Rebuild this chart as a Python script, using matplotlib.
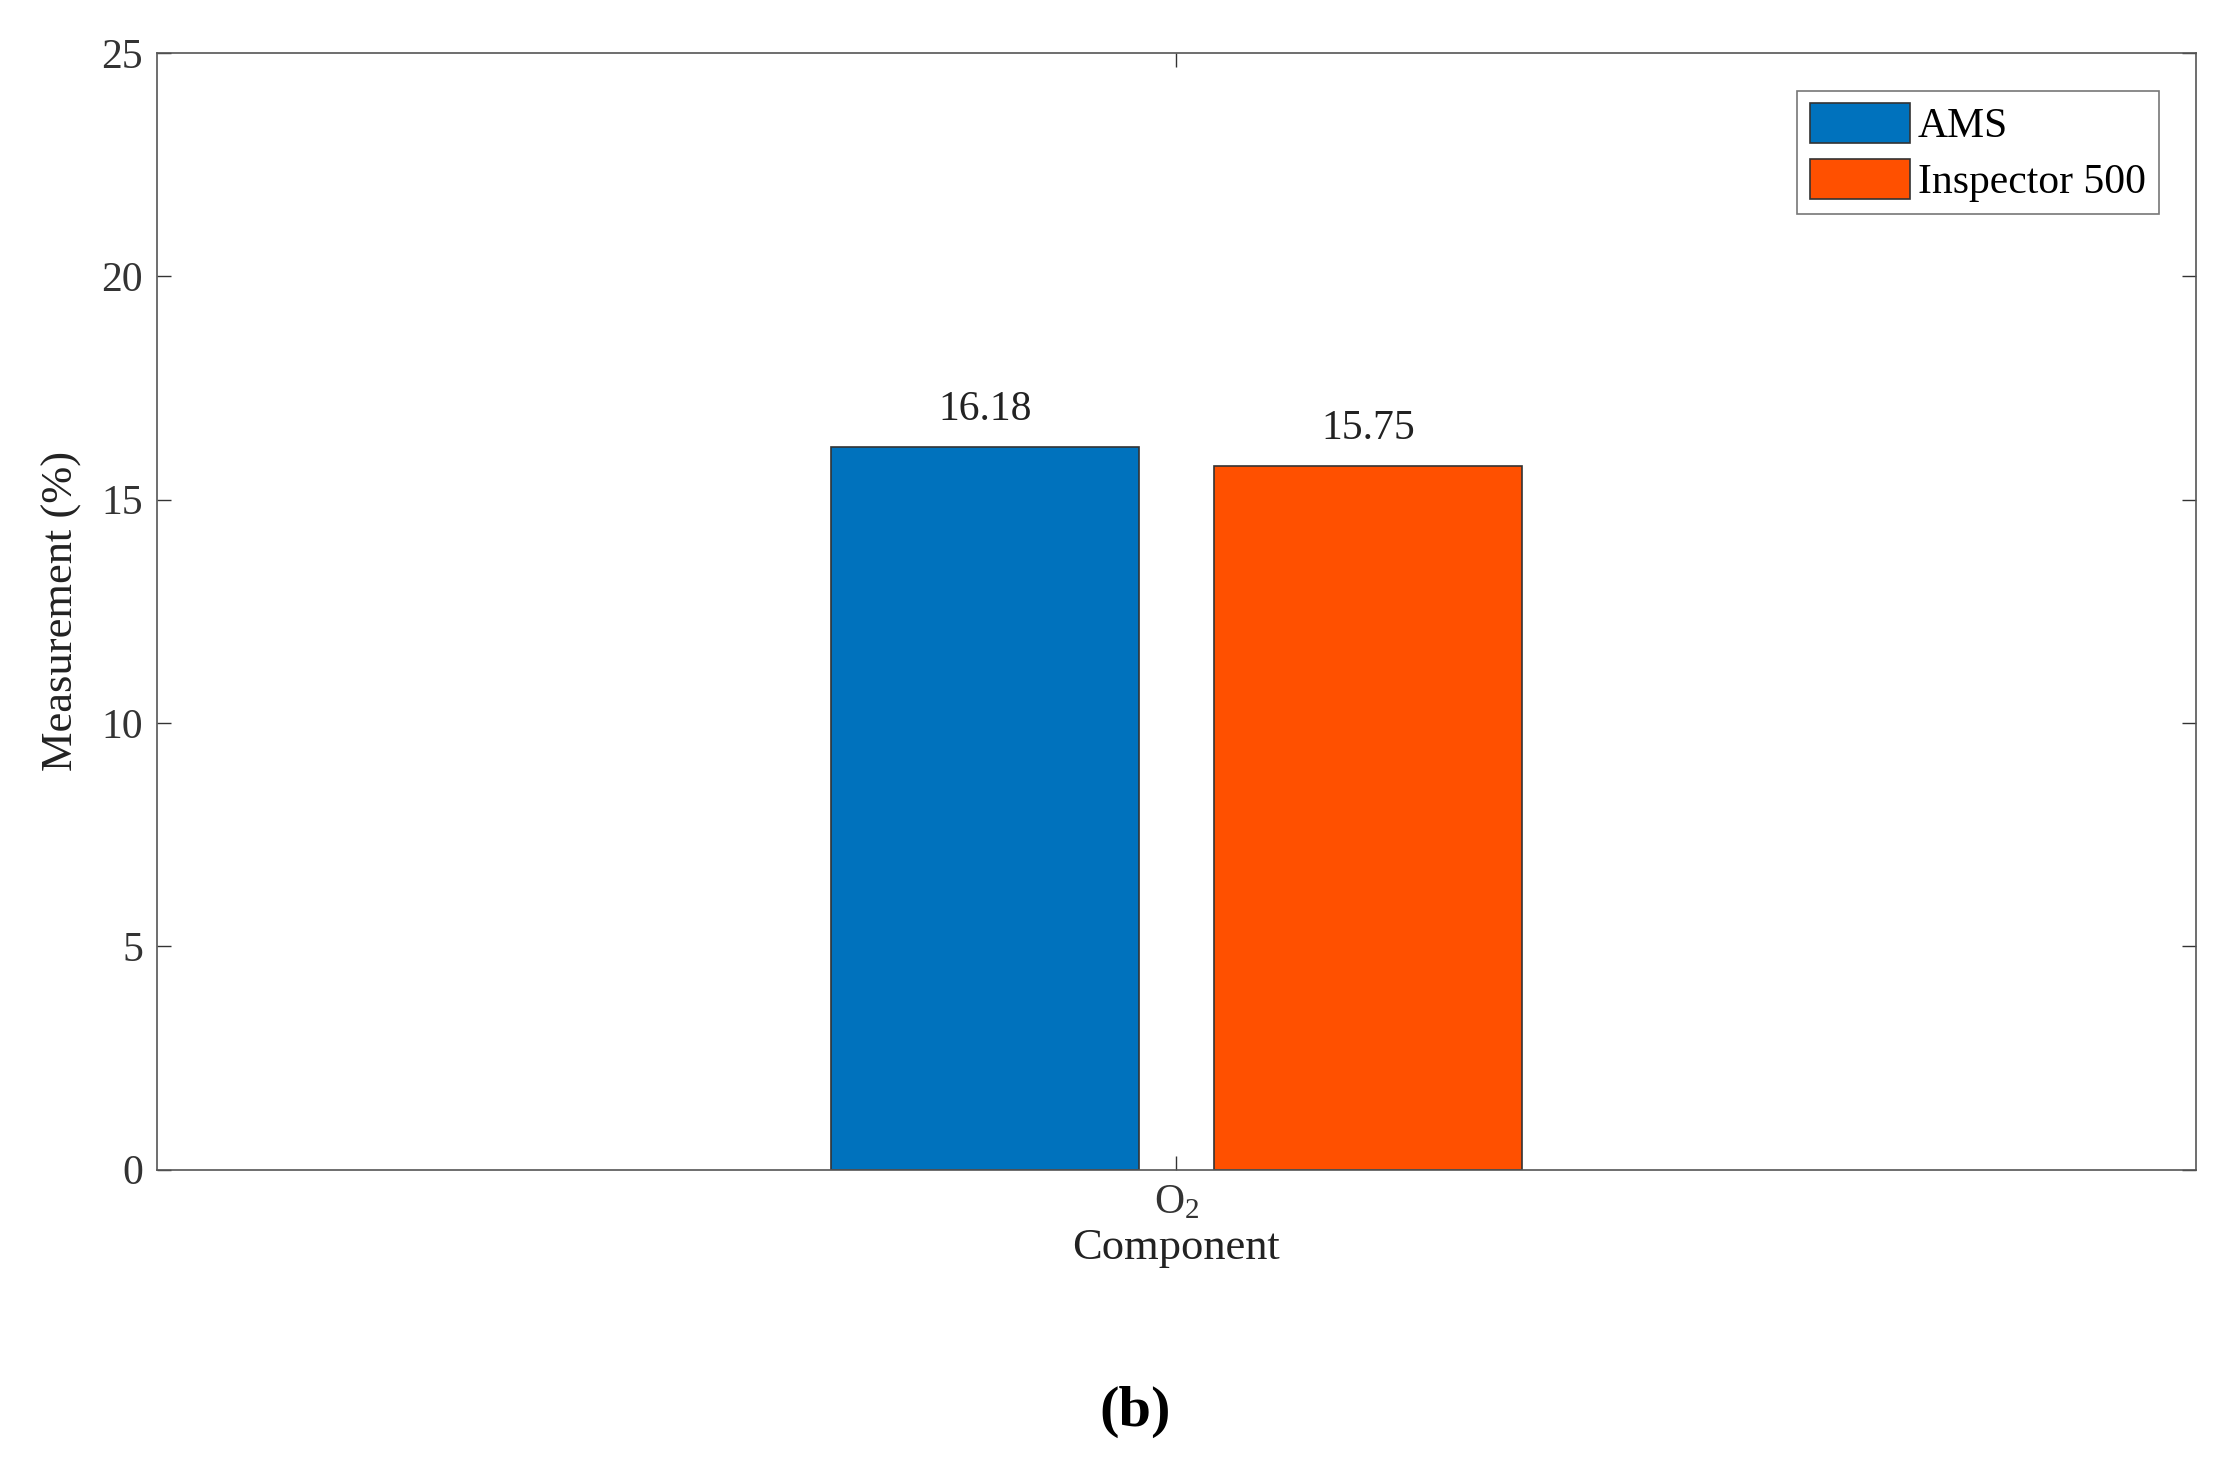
import matplotlib.pyplot as plt

plt.rcParams['font.family'] = ['Liberation Serif', 'DejaVu Serif']
plt.rcParams['mathtext.fontset'] = 'custom'
plt.rcParams['mathtext.rm'] = 'Liberation Serif'

categories = ['$\\mathregular{O_2}$']
series = ['AMS', 'Inspector 500']
values = [[16.18], [15.75]]
colors = ['#0072BD', '#FF5000']

fig = plt.figure(figsize=(22.25, 14.75), dpi=100)
ax = fig.add_axes([0.0705, 0.207, 0.9165, 0.757])

width = 0.151
offsets = [-0.094, 0.094]
for name, vals, off, c in zip(series, values, offsets, colors):
    xs = [i + 1 + off for i in range(len(categories))]
    bars = ax.bar(xs, vals, width, color=c, edgecolor='#333333', linewidth=1.2, label=name)
    for b, v in zip(bars, vals):
        ax.text(b.get_x() + b.get_width() / 2, v + 0.4, f'{v:.2f}',
                ha='center', va='bottom', fontsize=30, color='#222222')

ax.set_xlim(0.5, 1.5)
ax.set_ylim(0, 25)
ax.set_xticks(range(1, len(categories) + 1))
ax.set_xticklabels(categories)
ax.set_yticks([0, 5, 10, 15, 20, 25])
ax.tick_params(direction='in', top=True, right=True, length=10, width=1,
               labelsize=30, colors='#333333', pad=10)
for s in ax.spines.values():
    s.set_color('#555555')
    s.set_linewidth(1.2)
ax.set_xlabel('Component', fontsize=32, color='#222222', labelpad=4)
ax.set_ylabel('Measurement (%)', fontsize=32, color='#222222', labelpad=14)

leg = ax.legend(loc='upper right', fontsize=30, fancybox=False, edgecolor='#555555',
                handlelength=2.4, handleheight=1.1, handletextpad=0.2,
                borderpad=0.3, labelspacing=0.3, borderaxespad=0.9)
leg.get_frame().set_linewidth(1.2)

fig.text(0.51, 0.043, '(b)', ha='center', va='center', fontsize=42, fontweight='bold')

fig.savefig('out.png', dpi=100)
